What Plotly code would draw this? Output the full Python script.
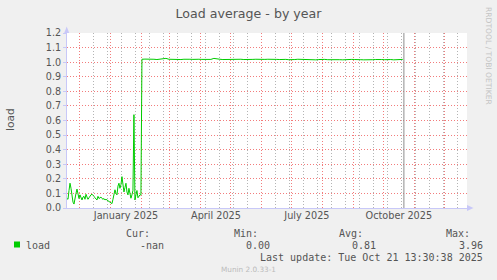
import pandas as pd
import plotly.graph_objects as go

# ---------------- data ----------------
title_text = "Load average - by year"
series_name = "load"
low_start = "2024-11-18 10:00"          # daily averages before the jump
low_values = [
    0.065, 0.060, 0.120, 0.170, 0.135, 0.070, 0.040, 0.027, 0.080, 0.100,
    0.130, 0.080, 0.065, 0.090, 0.070, 0.055, 0.075, 0.080, 0.060, 0.094,
    0.075, 0.060, 0.070, 0.085, 0.090, 0.095, 0.090, 0.080, 0.070, 0.060,
    0.055, 0.080, 0.065, 0.070, 0.075, 0.065, 0.060, 0.065, 0.055, 0.060,
    0.055, 0.050, 0.045, 0.045, 0.035, 0.030, 0.060, 0.090, 0.125, 0.100,
    0.090, 0.150, 0.170, 0.135, 0.160, 0.215, 0.150, 0.110, 0.140, 0.170,
    0.110, 0.090, 0.135, 0.100, 0.067, 0.090, 0.120, 0.640, 0.055, 0.090,
    0.120, 0.070, 0.080, 0.090, 0.090,
]
high_start = "2025-02-01 10:00"         # 3-day averages after the jump
high_values = [
    1.020, 1.021, 1.019, 1.022, 1.020, 1.018, 1.021, 1.020, 1.026, 1.020,
    1.019, 1.021, 1.020, 1.018, 1.020, 1.022, 1.020, 1.019, 1.021, 1.020,
    1.019, 1.020, 1.021, 1.019, 1.026, 1.021, 1.020, 1.018, 1.019, 1.021,
    1.020, 1.019, 1.021, 1.020, 1.018, 1.020, 1.021, 1.019, 1.020, 1.018,
    1.017, 1.019, 1.020, 1.018, 1.017, 1.019, 1.018, 1.020, 1.019, 1.017,
    1.016, 1.018, 1.020, 1.019, 1.017, 1.021, 1.019, 1.018, 1.016, 1.018,
    1.021, 1.019, 1.017, 1.018, 1.020, 1.019, 1.017, 1.016, 1.018, 1.020,
    1.019, 1.018, 1.020, 1.017, 1.016, 1.018, 1.019, 1.017, 1.018, 1.020,
    1.018, 1.017, 1.019, 1.018, 1.016, 1.018, 1.020, 1.019,
]
last_update = "2025-10-21 13:30:38"
x_range = ["2024-11-18 10:00", "2025-12-23 17:00"]
y_ticks = [0.0, 0.1, 0.2, 0.3, 0.4, 0.5, 0.6, 0.7, 0.8, 0.9, 1.0, 1.1, 1.2]
month_grid = pd.date_range("2024-12-01", "2025-12-01", freq="MS")
week_grid = pd.date_range("2024-12-01", "2025-12-31", freq="14D")
label_dates = ["2025-01-16 12:00", "2025-04-16 12:00", "2025-07-16 12:00", "2025-10-16 12:00"]
label_texts = ["January 2025", "April 2025", "July 2025", "October 2025"]
stat_headers = ["Cur:", "Min:", "Avg:", "Max:"]
stat_values = ["-nan", "0.00", "0.81", "3.96"]
footer_update = "Last update: Tue Oct 21 13:30:38 2025"
footer_munin = "Munin 2.0.33-1"
watermark = "RRDTOOL / TOBI OETIKER"

# ---------------- figure ----------------
W, H = 497, 280
L, R, T, B = 67, 30, 33, 72
PW, PH = W - L - R, H - T - B


def px(xp):
    return (xp - L) / PW


def py(yp):
    return (H - B - yp) / PH


x_vals = list(pd.date_range(low_start, periods=len(low_values), freq="D")) + \
    list(pd.date_range(high_start, periods=len(high_values), freq="3D"))
y_vals = low_values + high_values

TXT = "#555555"
PINK = "#F27C7C"
GREY = "#B4B4B4"
LAV = "#C8C8F8"
SANS = "DejaVu Sans"
MONO = "DejaVu Sans Mono"

fig = go.Figure()
fig.add_trace(go.Scatter(x=x_vals, y=y_vals, mode="lines", name=series_name,
                         line=dict(color="#00CC00", width=1), showlegend=False,
                         hoverinfo="skip"))
fig.add_trace(go.Scatter(x=[], y=[], xaxis="x2", showlegend=False))

fig.update_layout(
    width=W, height=H, autosize=False,
    margin=dict(l=L, r=R, t=T, b=B, pad=0),
    paper_bgcolor="#F0F0F0", plot_bgcolor="#FFFFFF",
    font=dict(family=SANS, size=10, color=TXT),
    title=dict(text=title_text, x=0.5, xanchor="center", y=1 - 14 / H,
               yanchor="middle", yref="container",
               font=dict(family=SANS, size=12.6, color="#555555")),
    xaxis=dict(type="date", range=x_range, tickmode="array", tickvals=list(month_grid),
               ticktext=[""] * len(month_grid), showticklabels=False, ticks="",
               showgrid=True, gridcolor=PINK, gridwidth=1, griddash="1px,2px",
               minor=dict(tickmode="array", tickvals=list(week_grid), showgrid=True,
                          gridcolor=GREY, gridwidth=1, griddash="1px,2px", ticks=""),
               showline=True, linecolor=LAV, linewidth=1, zeroline=False),
    xaxis2=dict(type="date", overlaying="x", matches="x", anchor="y", side="bottom",
                tickmode="array", tickvals=label_dates, ticktext=label_texts,
                showgrid=False, showline=False, zeroline=False, ticks="",
                tickfont=dict(family=SANS, size=9.7, color=TXT)),
    yaxis=dict(range=[0, 1.2], tickmode="array", tickvals=y_ticks,
               ticktext=[f"{v:.1f}" for v in y_ticks], ticks="outside", ticklen=3,
               tickcolor=LAV, showgrid=True, gridcolor=PINK, gridwidth=1,
               griddash="1px,2px", showline=True, linecolor=LAV, linewidth=1,
               zeroline=False, tickfont=dict(family=SANS, size=9.6, color=TXT)),
)

shapes = [
    dict(type="line", xref="x", yref="paper", x0=last_update, x1=last_update,
         y0=0, y1=1, line=dict(color="#8C8C8C", width=1)),
    dict(type="path", xref="paper", yref="paper",
         path=f"M {px(64.2)} {py(33)} L {px(69.2)} {py(33)} L {px(66.7)} {py(26.5)} Z",
         fillcolor=LAV, line=dict(width=0)),
    dict(type="path", xref="paper", yref="paper",
         path=f"M {px(467)} {py(205)} L {px(467)} {py(211)} L {px(473.5)} {py(208)} Z",
         fillcolor=LAV, line=dict(width=0)),
    dict(type="rect", xref="paper", yref="paper", x0=px(14), x1=px(20),
         y0=py(247.5), y1=py(241.5), fillcolor="#00CC00", line=dict(width=0)),
]
fig.update_layout(shapes=shapes)

ann = []


def add_text(text, xr, yc, anchor="right", font=MONO, size=10, color=TXT, angle=0):
    ann.append(dict(text=text, xref="paper", yref="paper", x=px(xr), y=py(yc),
                    xanchor=anchor, yanchor="middle", showarrow=False, textangle=angle,
                    borderpad=0, font=dict(family=font, size=size, color=color)))


header_right = [151, 259, 364, 471]
value_right = [164.5, 271, 377, 483.5]
for t, xr in zip(stat_headers, header_right):
    add_text(t, xr, 233.5)
for t, xr in zip(stat_values, value_right):
    add_text(t, xr, 245.5)
add_text(series_name, 25, 245.5, anchor="left")
add_text(footer_update, 483.5, 257.5)
add_text(footer_munin, 248.5, 269, anchor="center", font=SANS, size=7.3, color="#BBBBBB")
add_text("load", 10, 120, anchor="center", font=SANS, size=10.6, color=TXT, angle=-90)
add_text(watermark, 489, 56, anchor="center", font=SANS, size=7.6, color="#C4C4C4", angle=90)
fig.update_layout(annotations=ann)

fig.write_html("out.html")
